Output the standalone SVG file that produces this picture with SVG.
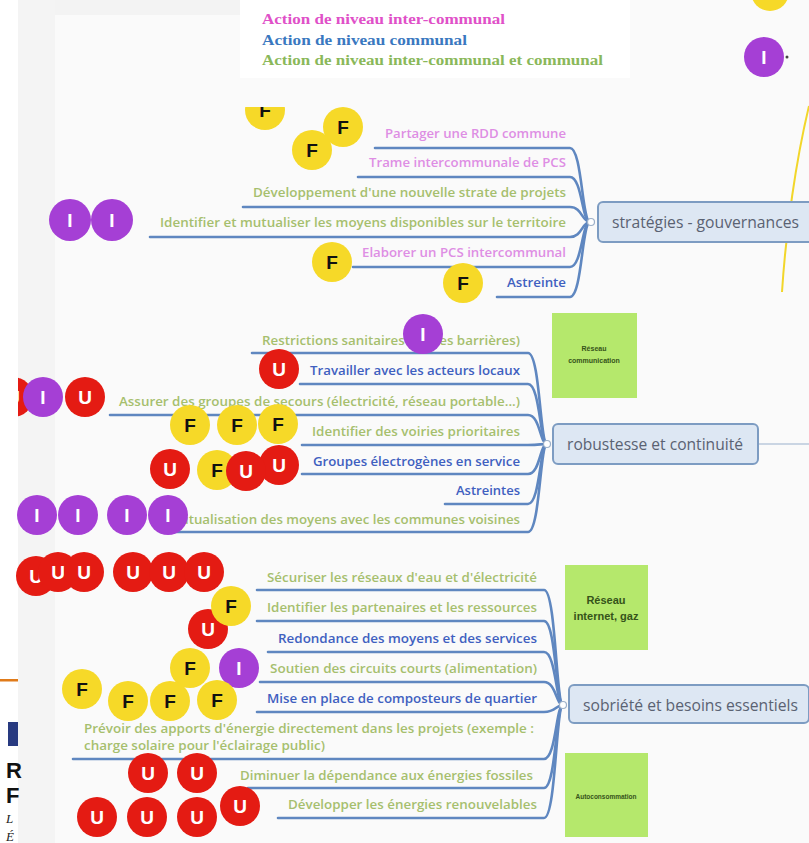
<svg xmlns="http://www.w3.org/2000/svg" width="809" height="843" viewBox="0 0 809 843">
<defs>
<style>
.bg{fill:#fafafa}
.leg{font-family:"Liberation Serif",serif;font-weight:bold;font-size:15px}
.it{font-family:"Open Sans","Liberation Sans",sans-serif;font-weight:600;font-size:12px;text-anchor:end}
.itl{font-family:"Open Sans","Liberation Sans",sans-serif;font-weight:600;font-size:12px}
.pk{fill:#de8ee4}.bl{fill:#4060c0}.gr{fill:#a6bf6e}
.ul{fill:none;stroke:#5f87c0;stroke-width:2.6;stroke-linecap:round}
.node rect{fill:#dde7f3;stroke:#7d9cc2;stroke-width:2}
.nt{font-family:"Open Sans","Liberation Sans",sans-serif;font-size:16.5px;fill:#5a6272}
.hub{fill:#fff;stroke:#9db0c8;stroke-width:1.2}
.note{fill:#b5e86c}
.nx{font-family:"Liberation Sans",sans-serif;font-weight:bold;fill:#35531a;text-anchor:middle}
.y{fill:#f6d928}.r{fill:#e41b13}.p{fill:#a53fd5}
.bt{font-family:"Liberation Sans",sans-serif;font-weight:bold;font-size:19px;text-anchor:middle}
.bk{fill:#111}.wh{fill:#fff}
</style>
<clipPath id="clipTop"><rect x="0" y="107" width="809" height="736"/></clipPath>
<clipPath id="clipLeft"><rect x="18" y="0" width="791" height="843"/></clipPath>
</defs>

<!-- background -->
<rect class="bg" x="0" y="0" width="809" height="843"/>
<rect x="18" y="0" width="37" height="843" fill="#f4f4f4"/>
<rect x="55" y="0" width="185" height="15" fill="#f3f3f3"/>
<rect x="240" y="0" width="390" height="78" fill="#ffffff"/>
<rect x="0" y="0" width="18" height="843" fill="#ffffff"/>

<!-- slide fragments at left edge -->
<g id="slide-edge">
<rect x="0" y="679" width="18" height="2.5" fill="#e07b1a"/>
<rect x="8" y="722" width="10" height="24" fill="#283a80"/>
<text x="6" y="778" font-family="Liberation Sans,sans-serif" font-weight="bold" font-size="22" fill="#111">R</text>
<text x="6" y="803" font-family="Liberation Sans,sans-serif" font-weight="bold" font-size="22" fill="#111">F</text>
<text x="6" y="823" font-family="Liberation Serif,serif" font-style="italic" font-size="13" fill="#222">L</text>
<text x="6" y="841" font-family="Liberation Serif,serif" font-style="italic" font-size="13" fill="#222">É</text>
</g>

<!-- legend -->
<g id="legend">
<text class="leg" x="262" y="24" fill="#e050c8" textLength="243" lengthAdjust="spacingAndGlyphs">Action de niveau inter-communal</text>
<text class="leg" x="262" y="45" fill="#3a78c0" textLength="205" lengthAdjust="spacingAndGlyphs">Action de niveau communal</text>
<text class="leg" x="262" y="65" fill="#8ab85a" textLength="341" lengthAdjust="spacingAndGlyphs">Action de niveau inter-communal et communal</text>
</g>

<!-- yellow hand line -->
<path d="M 809 106 C 796 160, 786 230, 782 292" fill="none" stroke="#f2d62a" stroke-width="2"/>

<!-- connectors -->
<g id="connectors">
<path class="ul" d="M 375 148 H 570 C 582 148, 582 222, 590 222"/>
<path class="ul" d="M 358 177 H 570 C 582 177, 582 222, 590 222"/>
<path class="ul" d="M 243 207 H 570 C 582 207, 582 222, 590 222"/>
<path class="ul" d="M 150 237 H 570 C 582 237, 582 222, 590 222"/>
<path class="ul" d="M 353 267 H 570 C 582 267, 582 222, 590 222"/>
<path class="ul" d="M 497 297 H 570 C 582 297, 582 222, 590 222"/>
<path class="ul" d="M 252 353 H 528 C 540 353, 540 444, 547 444"/>
<path class="ul" d="M 300 384 H 528 C 540 384, 540 444, 547 444"/>
<path class="ul" d="M 110 415 H 528 C 540 415, 540 444, 547 444"/>
<path class="ul" d="M 302 445 H 528 C 540 445, 540 444, 547 444"/>
<path class="ul" d="M 302 474 H 528 C 540 474, 540 444, 547 444"/>
<path class="ul" d="M 445 504 H 528 C 540 504, 540 444, 547 444"/>
<path class="ul" d="M 160 532 H 528 C 540 532, 540 444, 547 444"/>
<line x1="758" y1="444" x2="809" y2="444" stroke="#9ab0cc" stroke-width="1.2"/>
<path class="ul" d="M 257 590 H 544 C 556 590, 556 705, 563 705"/>
<path class="ul" d="M 257 621 H 544 C 556 621, 556 705, 563 705"/>
<path class="ul" d="M 268 652 H 544 C 556 652, 556 705, 563 705"/>
<path class="ul" d="M 260 682 H 544 C 556 682, 556 705, 563 705"/>
<path class="ul" d="M 257 712 H 544 C 556 712, 556 705, 563 705"/>
<path class="ul" d="M 73 759 H 544 C 556 759, 556 705, 563 705"/>
<path class="ul" d="M 248 788 H 544 C 556 788, 556 705, 563 705"/>
<path class="ul" d="M 278 818 H 544 C 556 818, 556 705, 563 705"/>
</g>

<!-- central nodes -->
<g id="node-strategies" class="node">
<rect x="598" y="202" width="216" height="40" rx="5"/>
<circle class="hub" cx="591" cy="222" r="3.5"/>
<text class="nt" x="612" y="228" textLength="187" lengthAdjust="spacingAndGlyphs">stratégies - gouvernances</text>
</g>
<g id="node-robustesse" class="node">
<rect x="553" y="424" width="205" height="40" rx="5"/>
<circle class="hub" cx="547" cy="444" r="3.5"/>
<text class="nt" x="567" y="450" textLength="176" lengthAdjust="spacingAndGlyphs">robustesse et continuité</text>
</g>
<g id="node-sobriete" class="node">
<rect x="569" y="685" width="240" height="38" rx="5"/>
<circle class="hub" cx="563" cy="705" r="3.5"/>
<text class="nt" x="583" y="711" textLength="215" lengthAdjust="spacingAndGlyphs">sobriété et besoins essentiels</text>
</g>

<!-- sticky notes -->
<g id="note-reseau-communication">
<rect class="note" x="552" y="313" width="85" height="85"/>
<text class="nx" x="594" y="351" font-size="7">Réseau</text>
<text class="nx" x="594" y="363" font-size="7">communication</text>
</g>
<g id="note-reseau-internet">
<rect class="note" x="565" y="565" width="83" height="85"/>
<text class="nx" x="606" y="604" font-size="11">Réseau</text>
<text class="nx" x="606" y="620" font-size="11">internet, gaz</text>
</g>
<g id="note-autoconsommation">
<rect class="note" x="565" y="753" width="83" height="84"/>
<text class="nx" x="606" y="799" font-size="6.5">Autoconsommation</text>
</g>

<!-- strategies items -->
<g id="items-strategies">
<text class="it pk" x="566" y="138" textLength="181" lengthAdjust="spacingAndGlyphs">Partager une RDD commune</text>
<text class="it pk" x="566" y="167" textLength="197" lengthAdjust="spacingAndGlyphs">Trame intercommunale de PCS</text>
<text class="it gr" x="566" y="197" textLength="313" lengthAdjust="spacingAndGlyphs">Développement d'une nouvelle strate de projets</text>
<text class="it gr" x="566" y="227" textLength="406" lengthAdjust="spacingAndGlyphs">Identifier et mutualiser les moyens disponibles sur le territoire</text>
<text class="it pk" x="566" y="257" textLength="204" lengthAdjust="spacingAndGlyphs">Elaborer un PCS intercommunal</text>
<text class="it bl" x="566" y="287" textLength="59" lengthAdjust="spacingAndGlyphs">Astreinte</text>
</g>

<!-- robustesse items -->
<g id="items-robustesse">
<text class="it gr" x="520" y="345" textLength="258" lengthAdjust="spacingAndGlyphs">Restrictions sanitaires (gestes barrières)</text>
<text class="it bl" x="520" y="375" textLength="210" lengthAdjust="spacingAndGlyphs">Travailler avec les acteurs locaux</text>
<text class="it gr" x="520" y="406" textLength="401" lengthAdjust="spacingAndGlyphs">Assurer des groupes de secours (électricité, réseau portable...)</text>
<text class="it gr" x="520" y="436" textLength="208" lengthAdjust="spacingAndGlyphs">Identifier des voiries prioritaires</text>
<text class="it bl" x="520" y="466" textLength="207" lengthAdjust="spacingAndGlyphs">Groupes électrogènes en service</text>
<text class="it bl" x="520" y="495" textLength="64" lengthAdjust="spacingAndGlyphs">Astreintes</text>
<text class="it gr" x="520" y="524" textLength="352" lengthAdjust="spacingAndGlyphs">Mutualisation des moyens avec les communes voisines</text>
</g>

<!-- sobriete items -->
<g id="items-sobriete">
<text class="it gr" x="537" y="582" textLength="270" lengthAdjust="spacingAndGlyphs">Sécuriser les réseaux d'eau et d'électricité</text>
<text class="it gr" x="537" y="612" textLength="270" lengthAdjust="spacingAndGlyphs">Identifier les partenaires et les ressources</text>
<text class="it bl" x="537" y="643" textLength="259" lengthAdjust="spacingAndGlyphs">Redondance des moyens et des services</text>
<text class="it gr" x="537" y="673" textLength="267" lengthAdjust="spacingAndGlyphs">Soutien des circuits courts (alimentation)</text>
<text class="it bl" x="537" y="703" textLength="270" lengthAdjust="spacingAndGlyphs">Mise en place de composteurs de quartier</text>
<text class="itl gr" x="84" y="733" textLength="450" lengthAdjust="spacingAndGlyphs">Prévoir des apports d'énergie directement dans les projets (exemple :</text>
<text class="itl gr" x="84" y="750" textLength="241" lengthAdjust="spacingAndGlyphs">charge solaire pour l'éclairage public)</text>
<text class="it gr" x="533" y="780" textLength="293" lengthAdjust="spacingAndGlyphs">Diminuer la dépendance aux énergies fossiles</text>
<text class="it gr" x="537" y="809" textLength="249" lengthAdjust="spacingAndGlyphs">Développer les énergies renouvelables</text>
</g>

<!-- badges -->
<g id="badges-top">
<circle class="y" cx="770" cy="-8" r="19"/>
<circle class="p" cx="764" cy="57" r="20"/><text class="bt wh" x="764" y="64">I</text>
<circle cx="787" cy="57" r="1.5" fill="#444"/>
</g>

<g id="badges-strategies">
<g clip-path="url(#clipTop)"><circle class="y" cx="265" cy="110" r="20"/><text class="bt bk" x="265" y="117">F</text></g>
<circle class="y" cx="312" cy="150" r="20"/><text class="bt bk" x="312" y="157">F</text>
<circle class="y" cx="343" cy="127" r="20"/><text class="bt bk" x="343" y="134">F</text>
<circle class="p" cx="70" cy="220" r="21"/><text class="bt wh" x="70" y="227">I</text>
<circle class="p" cx="112" cy="220" r="21"/><text class="bt wh" x="112" y="227">I</text>
<circle class="y" cx="332" cy="262" r="20"/><text class="bt bk" x="332" y="269">F</text>
<circle class="y" cx="463" cy="283" r="20"/><text class="bt bk" x="463" y="290">F</text>
</g>

<g id="badges-robustesse">
<circle class="p" cx="423" cy="334" r="20"/><text class="bt wh" x="423" y="341">I</text>
<circle class="r" cx="279" cy="369" r="20"/><text class="bt wh" x="279" y="376">U</text>
<g clip-path="url(#clipLeft)"><circle class="r" cx="13" cy="397" r="20"/><text class="bt wh" x="13" y="404">U</text></g>
<circle class="p" cx="43" cy="397" r="20"/><text class="bt wh" x="43" y="404">I</text>
<circle class="r" cx="85" cy="397" r="20"/><text class="bt wh" x="85" y="404">U</text>
<circle class="y" cx="190" cy="425" r="20"/><text class="bt bk" x="190" y="432">F</text>
<circle class="y" cx="237" cy="425" r="20"/><text class="bt bk" x="237" y="432">F</text>
<circle class="y" cx="278" cy="424" r="20"/><text class="bt bk" x="278" y="431">F</text>
<circle class="r" cx="170" cy="469" r="20"/><text class="bt wh" x="170" y="476">U</text>
<circle class="y" cx="217" cy="470" r="20"/><text class="bt bk" x="217" y="477">F</text>
<circle class="r" cx="279" cy="465" r="20"/><text class="bt wh" x="279" y="472">U</text>
<circle class="r" cx="246" cy="471" r="20"/><text class="bt wh" x="246" y="478">U</text>
<circle class="p" cx="37" cy="515" r="20"/><text class="bt wh" x="37" y="522">I</text>
<circle class="p" cx="78" cy="515" r="20"/><text class="bt wh" x="78" y="522">I</text>
<circle class="p" cx="127" cy="515" r="20"/><text class="bt wh" x="127" y="522">I</text>
<circle class="p" cx="168" cy="515" r="20"/><text class="bt wh" x="168" y="522">I</text>
</g>

<g id="badges-sobriete">
<circle class="r" cx="36" cy="576" r="20"/><text class="bt wh" x="36" y="583">U</text>
<circle class="r" cx="58" cy="572" r="20"/><text class="bt wh" x="58" y="579">U</text>
<circle class="r" cx="84" cy="572" r="20"/><text class="bt wh" x="84" y="579">U</text>
<circle class="r" cx="133" cy="572" r="20"/><text class="bt wh" x="133" y="579">U</text>
<circle class="r" cx="169" cy="572" r="20"/><text class="bt wh" x="169" y="579">U</text>
<circle class="r" cx="204" cy="572" r="20"/><text class="bt wh" x="204" y="579">U</text>
<circle class="r" cx="208" cy="629" r="20"/><text class="bt wh" x="208" y="636">U</text>
<circle class="y" cx="231" cy="606" r="20"/><text class="bt bk" x="231" y="613">F</text>
<circle class="y" cx="190" cy="668" r="20"/><text class="bt bk" x="190" y="675">F</text>
<circle class="p" cx="239" cy="668" r="20"/><text class="bt wh" x="239" y="675">I</text>
<circle class="y" cx="82" cy="689" r="20"/><text class="bt bk" x="82" y="696">F</text>
<circle class="y" cx="128" cy="701" r="20"/><text class="bt bk" x="128" y="708">F</text>
<circle class="y" cx="170" cy="701" r="20"/><text class="bt bk" x="170" y="708">F</text>
<circle class="y" cx="217" cy="700" r="20"/><text class="bt bk" x="217" y="707">F</text>
<circle class="r" cx="148" cy="773" r="20"/><text class="bt wh" x="148" y="780">U</text>
<circle class="r" cx="197" cy="773" r="20"/><text class="bt wh" x="197" y="780">U</text>
<circle class="r" cx="97" cy="817" r="20"/><text class="bt wh" x="97" y="824">U</text>
<circle class="r" cx="147" cy="817" r="20"/><text class="bt wh" x="147" y="824">U</text>
<circle class="r" cx="197" cy="817" r="20"/><text class="bt wh" x="197" y="824">U</text>
<circle class="r" cx="240" cy="806" r="20"/><text class="bt wh" x="240" y="813">U</text>
</g>
</svg>
